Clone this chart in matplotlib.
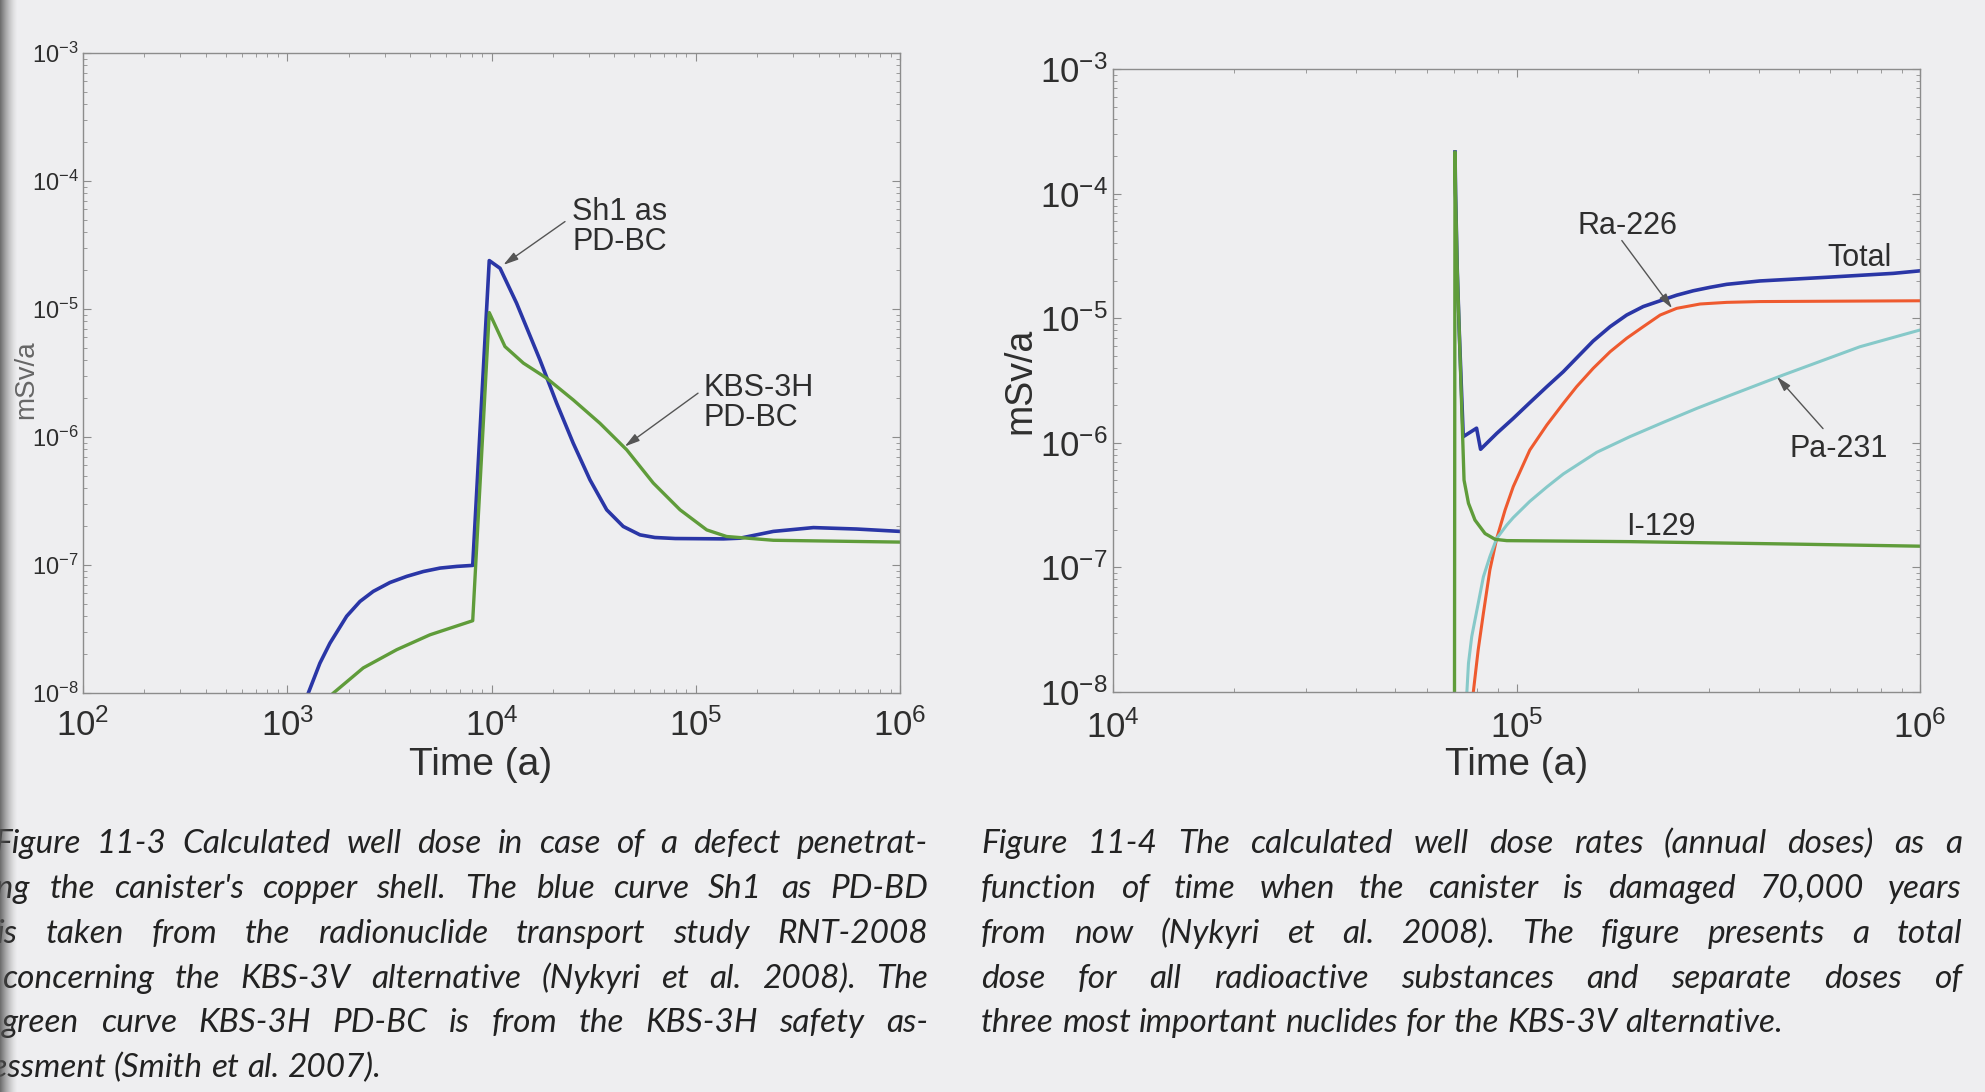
import matplotlib
matplotlib.use("Agg")
import matplotlib.pyplot as plt
import numpy as np
from matplotlib.ticker import LogLocator, NullFormatter

plt.rcParams["font.family"] = ["Liberation Sans", "DejaVu Sans"]
plt.rcParams["mathtext.fontset"] = "custom"
plt.rcParams["mathtext.rm"] = "Liberation Sans"
plt.rcParams["mathtext.it"] = "Liberation Sans:italic"
plt.rcParams["mathtext.bf"] = "Liberation Sans:bold"

# ---- Figure 11-3 (left): well dose, mSv/a
sh1_t = [1268, 1445, 1618, 1954, 2270, 2636, 3184, 3846, 4634, 5598, 6761,
         8091, 9750, 11015, 13270, 17260, 20840, 25120, 30340, 36640, 44160,
         53330, 63100, 79430, 136500, 164800, 239900, 376700, 613800, 1e6]
sh1_dose = [1.0e-8, 1.71e-8, 2.45e-8, 3.98e-8, 5.19e-8, 6.22e-8, 7.30e-8,
            8.15e-8, 8.89e-8, 9.46e-8, 9.75e-8, 9.93e-8, 2.39e-5, 2.08e-5,
            1.11e-5, 4.01e-6, 1.84e-6, 8.95e-7, 4.63e-7, 2.70e-7, 2.00e-7,
            1.72e-7, 1.64e-7, 1.61e-7, 1.60e-7, 1.62e-7, 1.83e-7, 1.96e-7,
            1.91e-7, 1.83e-7]

kbs3h_t = [1683, 2355, 3436, 5000, 8091, 9750, 11640, 14320, 18620, 25120,
           33960, 45920, 61940, 83750, 113200, 141600, 239900, 1e6]
kbs3h_dose = [1.0e-8, 1.57e-8, 2.18e-8, 2.85e-8, 3.67e-8, 9.38e-6, 5.09e-6,
              3.78e-6, 2.88e-6, 1.95e-6, 1.28e-6, 7.94e-7, 4.37e-7, 2.70e-7,
              1.88e-7, 1.67e-7, 1.56e-7, 1.51e-7]

# ---- Figure 11-4 (right): dose rates per nuclide, mSv/a
total_t = [70400, 70630, 71290, 72110, 73790, 79620, 81470, 89330, 98170,
           107900, 118900, 130600, 140900, 154900, 170600, 187500, 206100,
           227000, 249500, 274200, 302000, 331900, 400900, 587500, 859000, 1e6]
total_dose = [2.16e-4, 1.0e-4, 2.51e-5, 8.04e-6, 1.12e-6, 1.31e-6, 8.87e-7,
              1.19e-6, 1.57e-6, 2.10e-6, 2.82e-6, 3.72e-6, 4.79e-6, 6.56e-6,
              8.55e-6, 1.06e-5, 1.24e-5, 1.38e-5, 1.53e-5, 1.66e-5, 1.77e-5,
              1.87e-5, 1.99e-5, 2.13e-5, 2.29e-5, 2.40e-5]

ra226_t = [78160, 80350, 82790, 85900, 89330, 93700, 98170, 107900, 118900,
           130600, 140900, 154900, 170600, 187500, 206100, 227000, 249500,
           285100, 331900, 400900, 1e6]
ra226_dose = [1.0e-8, 2.17e-8, 4.29e-8, 9.53e-8, 1.71e-7, 2.89e-7, 4.45e-7,
              8.75e-7, 1.39e-6, 2.07e-6, 2.82e-6, 3.96e-6, 5.38e-6, 6.90e-6,
              8.55e-6, 1.06e-5, 1.20e-5, 1.30e-5, 1.34e-5, 1.36e-5, 1.38e-5]

pa231_t = [75340, 76030, 77450, 82790, 85900, 89330, 94620, 98170, 107900,
           118900, 130600, 158100, 191000, 231200, 279900, 338100, 458100,
           709600, 1e6]
pa231_dose = [1.0e-8, 1.70e-8, 2.78e-8, 8.41e-8, 1.22e-7, 1.71e-7, 2.19e-7,
              2.51e-7, 3.39e-7, 4.42e-7, 5.62e-7, 8.39e-7, 1.12e-6, 1.46e-6,
              1.89e-6, 2.40e-6, 3.50e-6, 5.90e-6, 8.04e-6]

i129_t = [70200, 70400, 70630, 71290, 72110, 73450, 74130, 76030, 78890,
          83560, 88510, 94620, 191000, 476400, 1e6]
i129_dose = [1.0e-8, 2.16e-4, 1.0e-4, 2.51e-5, 8.04e-6, 1.27e-6, 5.02e-7,
             3.27e-7, 2.40e-7, 1.87e-7, 1.68e-7, 1.64e-7, 1.61e-7, 1.54e-7,
             1.48e-7]

caption_left = [
    "Figure 11-3 Calculated well dose in case of a defect penetrat-",
    "ing the canister's copper shell. The blue curve Sh1 as PD-BD",
    "is taken from the radionuclide transport study RNT-2008",
    "concerning the KBS-3V alternative (Nykyri et al. 2008). The",
    "green curve KBS-3H PD-BC is from the KBS-3H safety as-",
    "sessment (Smith et al. 2007).",
]
caption_right = [
    "Figure 11-4 The calculated well dose rates (annual doses) as a",
    "function of time when the canister is damaged 70,000 years",
    "from now (Nykyri et al. 2008). The figure presents a total",
    "dose for all radioactive substances and separate doses of",
    "three most important nuclides for the KBS-3V alternative.",
]

BG = "#eeeef0"
BLUE = "#2a36a6"
GREEN = "#5f9c3a"
RED = "#ee5a2f"
CYAN = "#86c9c9"
INK = "#2e2e2e"
W, H = 1985, 1092

fig = plt.figure(figsize=(W / 100, H / 100), dpi=100, facecolor=BG)


def style_axes(ax, xlim, xsize, ysize, xpad, ypad):
    ax.set_xscale("log")
    ax.set_yscale("log")
    ax.set_xlim(*xlim)
    ax.set_ylim(1e-8, 1e-3)
    ax.set_facecolor(BG)
    for s in ax.spines.values():
        s.set_color("#8c8c8c")
        s.set_linewidth(1.0)
    for axis in (ax.xaxis, ax.yaxis):
        axis.set_major_locator(LogLocator(base=10, numticks=12))
        axis.set_minor_locator(LogLocator(base=10, subs=np.arange(2, 10), numticks=12))
        axis.set_minor_formatter(NullFormatter())
    ax.tick_params(which="both", direction="in", top=True, right=True,
                   color="#8c8c8c", labelcolor=INK)
    ax.tick_params(which="major", length=6, width=0.8)
    ax.tick_params(which="minor", length=3, width=0.6)
    ax.tick_params(axis="x", labelsize=xsize, pad=xpad)
    ax.tick_params(axis="y", labelsize=ysize, pad=ypad)


def arrow(ax, head, tail):
    ax.annotate("", xy=head, xytext=tail,
                arrowprops=dict(arrowstyle="-|>,head_length=0.9,head_width=0.25",
                                color="#555555", lw=1.0, shrinkA=0, shrinkB=0))


# left panel
ax1 = fig.add_axes([83 / W, 1 - 693 / H, 817 / W, 640 / H])
style_axes(ax1, (1e2, 1e6), 25, 17, 11, 3)
ax1.plot(sh1_t, sh1_dose, color=BLUE, lw=2.6)
ax1.plot(kbs3h_t, kbs3h_dose, color=GREEN, lw=2.4)
ax1.set_xlabel("Time (a)", fontsize=28, color=INK)
ax1.xaxis.set_label_coords(0.487, -0.085)
ax1.set_ylabel("mSv/a", fontsize=20, color="#666666")
ax1.yaxis.set_label_coords(-0.053, 0.49)
ax1.text(2.48e4, 4.4e-5, "Sh1 as\nPD-BC", fontsize=22, color=INK,
         ha="left", va="center", linespacing=1.0)
arrow(ax1, (1.143e4, 2.21e-5), (2.29e4, 4.82e-5))
ax1.text(1.09e5, 1.85e-6, "KBS-3H\nPD-BC", fontsize=22, color=INK,
         ha="left", va="center", linespacing=1.0)
arrow(ax1, (4.49e4, 8.43e-7), (1.026e5, 2.2e-6))

# right panel
ax2 = fig.add_axes([1113 / W, 1 - 692 / H, 807 / W, 623 / H])
style_axes(ax2, (1e4, 1e6), 25, 25, 13, 4)
ax2.plot(total_t, total_dose, color=BLUE, lw=2.6)
ax2.plot(ra226_t, ra226_dose, color=RED, lw=2.2)
ax2.plot(pa231_t, pa231_dose, color=CYAN, lw=2.2)
ax2.plot(i129_t, i129_dose, color=GREEN, lw=2.4)
ax2.set_xlabel("Time (a)", fontsize=28, color=INK)
ax2.xaxis.set_label_coords(0.5, -0.088)
ax2.set_ylabel("mSv/a", fontsize=27, color=INK)
ax2.yaxis.set_label_coords(-0.092, 0.5)
ax2.text(1.88e5, 5.5e-5, "Ra-226", fontsize=22, color=INK, ha="center", va="center")
arrow(ax2, (2.43e5, 1.2e-5), (1.824e5, 4.2e-5))
ax2.text(7.1e5, 3.05e-5, "Total", fontsize=22, color=INK, ha="center", va="center")
ax2.text(6.3e5, 8.9e-7, "Pa-231", fontsize=22, color=INK, ha="center", va="center")
arrow(ax2, (4.42e5, 3.39e-6), (5.75e5, 1.3e-6))
ax2.text(2.28e5, 2.1e-7, "I-129", fontsize=22, color=INK, ha="center", va="center")

# captions, justified word by word
renderer = fig.canvas.get_renderer()
cap_kw = dict(family=["Lato", "DejaVu Sans"], style="italic", fontsize=24, color="#222222")


def justified(lines, x0s, x_right, baselines):
    for i, (line, x0, yb) in enumerate(zip(lines, x0s, baselines)):
        words = line.split()
        arts = [fig.text(0, 1 - yb / H, w, ha="left", va="baseline", **cap_kw) for w in words]
        widths = [a.get_window_extent(renderer).width for a in arts]
        if i == len(lines) - 1:
            gap = 8.0
        else:
            gap = (x_right - x0 - sum(widths)) / (len(words) - 1)
        x = x0
        for a, w in zip(arts, widths):
            a.set_x(x / W)
            x += w + gap


justified(caption_left, [-6, -11, -3, 2, 2, -22], 928,
          [853, 898, 943, 988, 1032, 1077])
justified(caption_right, [981] * 5, 1962, [853, 898, 943, 988, 1032])

# binding shadow on the left edge
shade = np.zeros((1, 64, 4))
shade[..., :3] = 0.33
shade[..., 3] = np.linspace(0.9, 0.0, 64) ** 1.5
sh = fig.add_axes([0, 0, 18 / W, 1], zorder=10)
sh.imshow(shade, aspect="auto", extent=(0, 1, 0, 1))
sh.axis("off")

fig.savefig("out.png", dpi=100, facecolor=BG)
